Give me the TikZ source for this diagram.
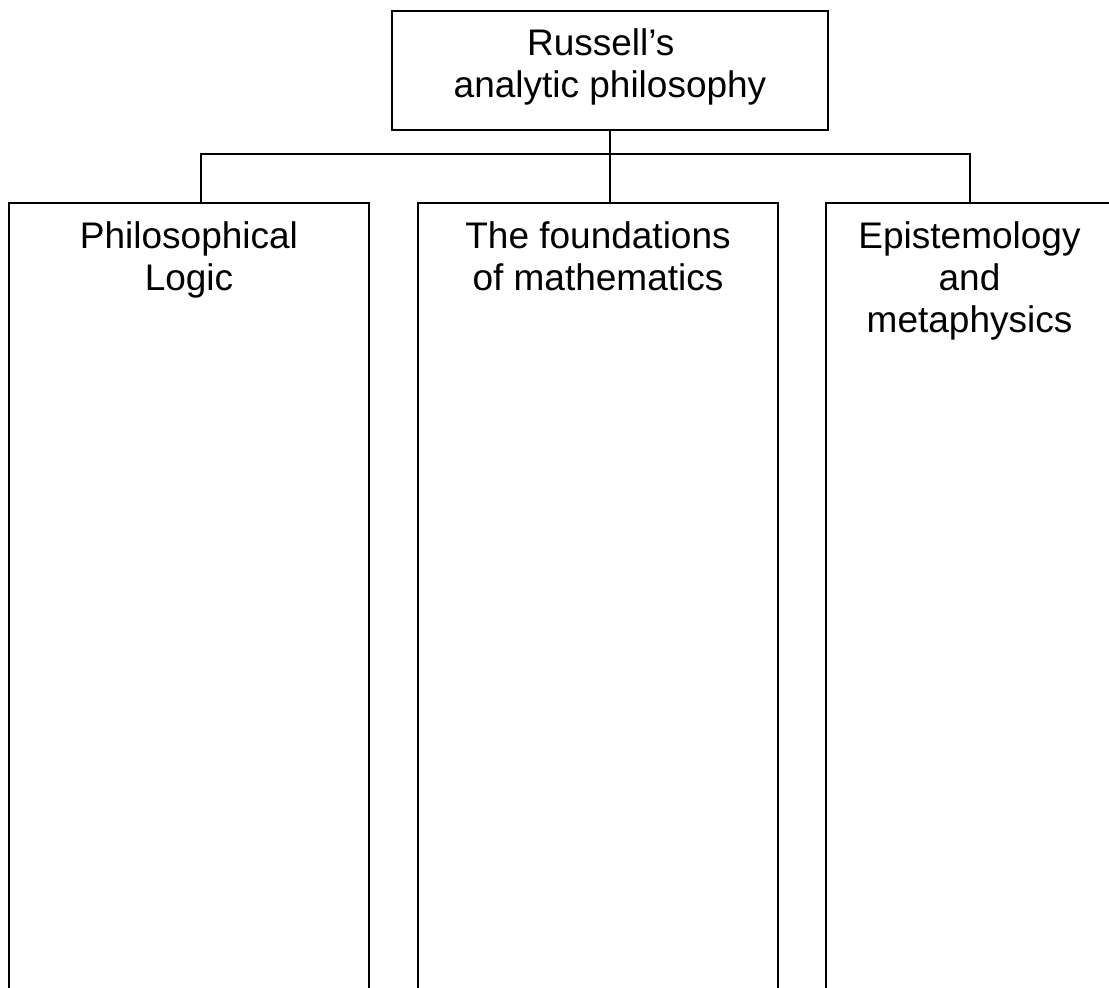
\documentclass[tikz,border=0pt]{standalone}
\usepackage{fontspec}
\setmainfont{Liberation Sans}
\begin{document}
\begin{tikzpicture}[x=1pt,y=-1pt,
  frame/.style={draw=black,line width=2pt,inner sep=0pt,rectangle},
  column/.style={frame,anchor=north,minimum height=820pt},
  caption/.style={anchor=north,align=center,inner sep=0pt,
    font=\fontsize{37}{42}\selectfont},
  link/.style={draw=black,line width=2pt}]
\useasboundingbox (0,0) rectangle (1109,988);
\clip (0,0) rectangle (1109,988);

% root box
\node[frame,minimum width=436pt,minimum height=119pt] (root) at (610,70.5) {};
\node[caption] (rootT) at (610,28) {Russell's\hspace*{0.5em}\\analytic philosophy};

% three columns, open at the bottom of the page
\node[column,minimum width=360pt] (logic) at (189,202) {};
\node[column,minimum width=360pt] (maths) at (598,202) {};
\node[column,minimum width=287pt] (epist) at (969.5,202) {};

\node[caption] (logicT) at (189,221) {Philosophical\\Logic};
\node[caption] (mathsT) at (598,221) {The foundations\\of mathematics};
\node[caption] (epistT) at (969.5,221) {Epistemology\\and\\metaphysics};

% connectors
\coordinate (bus) at (610,154);
\coordinate (jL) at (201,202);
\draw[link] (root.south) -- (root.south |- maths.north);
\draw[link] (jL) |- (bus) -| (epist.north);
\end{tikzpicture}
\end{document}
